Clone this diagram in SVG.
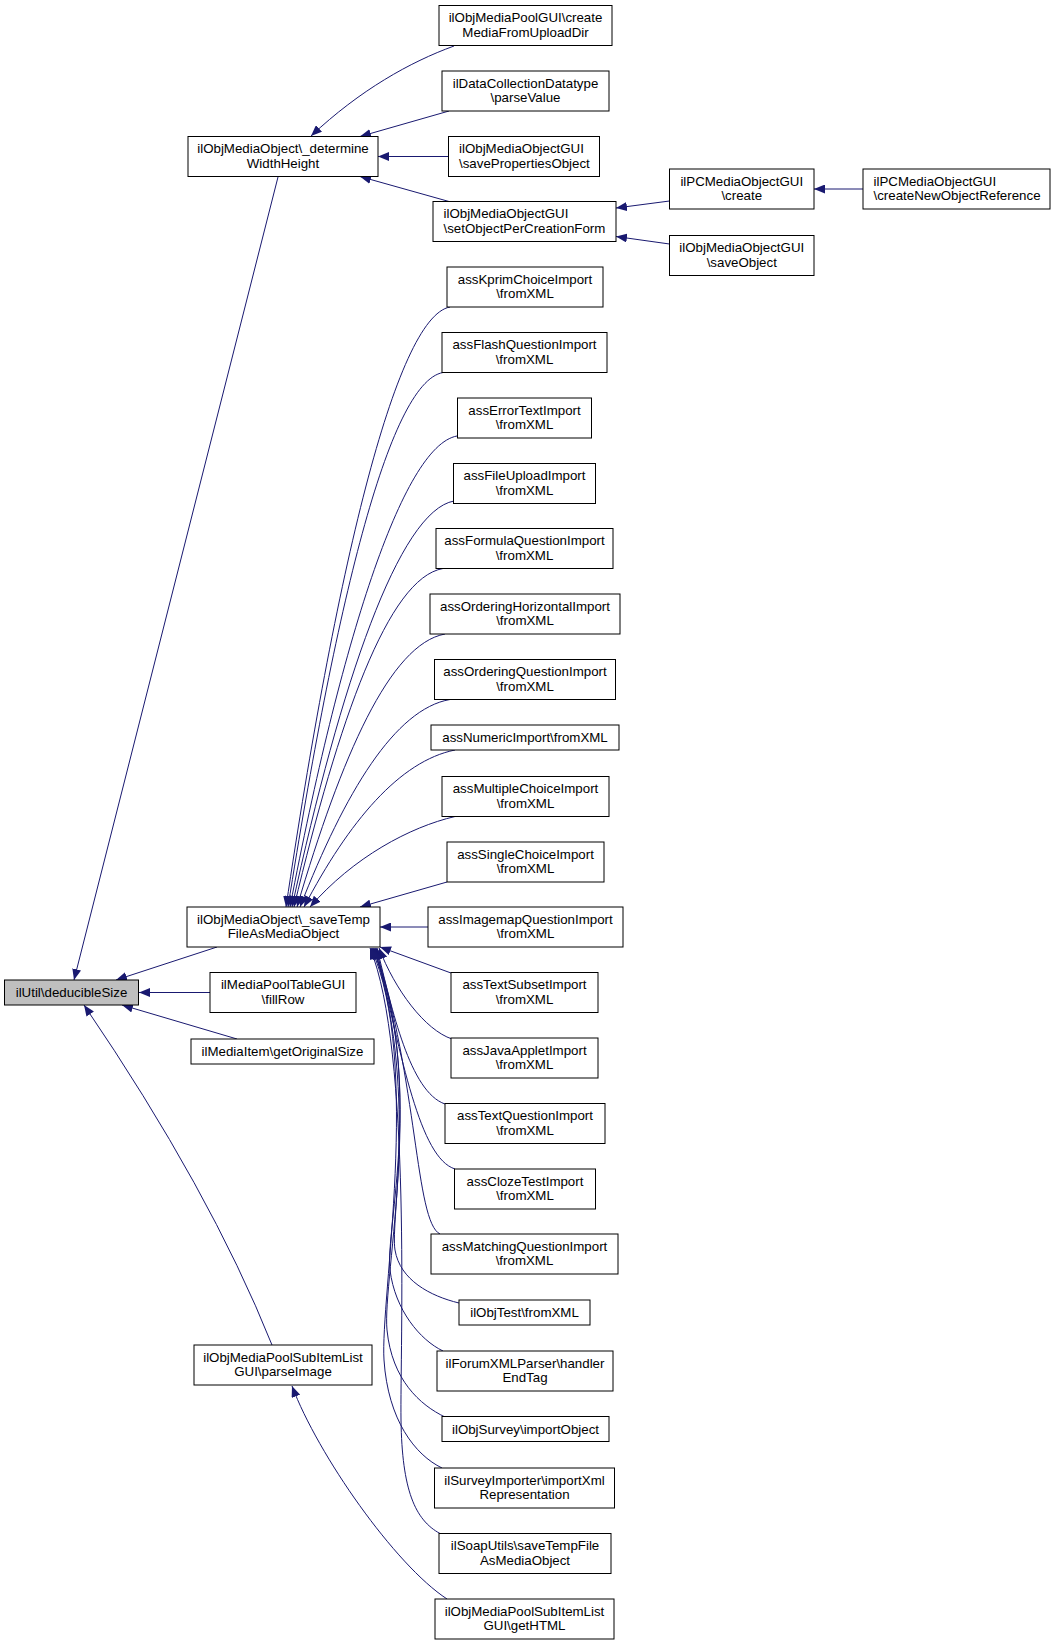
<svg xmlns="http://www.w3.org/2000/svg" width="1055" height="1645" viewBox="0 0 1055 1645">
<defs>
<marker id="arr" markerUnits="userSpaceOnUse" markerWidth="12" markerHeight="9" refX="11" refY="4.5" orient="auto">
<polygon points="0,0 11,4.5 0,9" fill="#191970"/>
</marker>
<style>
rect{fill:#fff;stroke:#000;stroke-width:1}
rect.hl{fill:#bfbfbf}
text{font-family:"Liberation Sans",Arial,Helvetica,sans-serif;font-size:13.3px;fill:#000}
.c{text-anchor:middle}
#edges path{fill:none;stroke:#191970;stroke-width:1;marker-end:url(#arr)}
</style>
</defs>
<rect x="0" y="0" width="1055" height="1645" style="fill:#fff;stroke:none"/>
<g id="edges">
<path d="M278,177 L74,980"/>
<path d="M217,947 L116,980"/>
<path d="M210,992.5 L139,992.5"/>
<path d="M237,1039 L122,1005"/>
<path d="M272,1345 Q210,1190 84,1005"/>
<path d="M454,46 C410,62 360,90 311,136"/>
<path d="M449,111 L360,136.5"/>
<path d="M448.5,156.5 L378,156.5"/>
<path d="M449,201.5 L360,176.5"/>
<path d="M669.5,201 L616,208"/>
<path d="M669.5,244 L616,236.5"/>
<path d="M863,189 L814,189"/>
<path d="M450,307 C395,317 335,577 286,907"/>
<path d="M443,372.5 C388,382.5 334.5,613 288,907"/>
<path d="M457,436 C402,446 340,646 290,907"/>
<path d="M454,501 C399,511 340.6,683 292,907"/>
<path d="M443,568.5 C388,578 338.7,720 294,907"/>
<path d="M445,634 C390,644 341.4,756 297,907"/>
<path d="M450,699.5 C395,709 345,792 300,907"/>
<path d="M455,750 C400,761 349,821 304,907"/>
<path d="M455,816.5 C410,827 353.5,857 310,907"/>
<path d="M447,882 L360,907"/>
<path d="M428,927 L380,927"/>
<path d="M451,973 L380,947"/>
<path d="M452,1039 C425,1030 395,990 379,948"/>
<path d="M445,1104 C410,1092 392,1010 377,948"/>
<path d="M455,1169 C420,1158 402,1060 376,948"/>
<path d="M440,1234 C415,1222 418,1080 375,948"/>
<path d="M459,1303 C430,1296 400,1280 395,1250 S418,1090 374,948"/>
<path d="M443,1351 C420,1340 395,1310 390,1270 S425,1080 373,948"/>
<path d="M445,1417 C420,1405 392,1380 387,1330 S428,1070 372,948"/>
<path d="M442,1468 C415,1455 388,1420 384,1360 S422,1060 371,948"/>
<path d="M440,1533.5 C415,1520 402,1490 401,1420 S412,1050 370,948"/>
<path d="M447,1599 C395,1565 318,1455 292,1386"/>
</g>
<g id="n_ilUtil"><rect class="hl" x="4.5" y="980" width="134" height="25"/><text class="c" x="71.5" y="997">ilUtil\deducibleSize</text></g>
<g id="n_determine"><rect x="188" y="136.5" width="190" height="40"/><text class="c" x="283" y="153">ilObjMediaObject\_determine</text><text class="c" x="283" y="167.5">WidthHeight</text></g>
<g id="n_saveTemp"><rect x="187" y="907" width="193" height="40"/><text class="c" x="283.5" y="923.5">ilObjMediaObject\_saveTemp</text><text class="c" x="283.5" y="938">FileAsMediaObject</text></g>
<g id="n_fillRow"><rect x="210" y="972.5" width="146" height="40"/><text class="c" x="283" y="989">ilMediaPoolTableGUI</text><text class="c" x="283" y="1003.5">\fillRow</text></g>
<g id="n_getOriginalSize"><rect x="191" y="1039" width="183" height="25"/><text class="c" x="282.5" y="1056">ilMediaItem\getOriginalSize</text></g>
<g id="n_parseImage"><rect x="194" y="1345" width="178" height="40"/><text class="c" x="283" y="1361.5">ilObjMediaPoolSubItemList</text><text class="c" x="283" y="1376">GUI\parseImage</text></g>
<g id="n1"><rect x="439" y="5.5" width="173" height="40"/><text class="c" x="525.5" y="22">ilObjMediaPoolGUI\create</text><text class="c" x="525.5" y="36.5">MediaFromUploadDir</text></g>
<g id="n2"><rect x="442" y="71" width="167" height="40"/><text class="c" x="525.5" y="87.5">ilDataCollectionDatatype</text><text class="c" x="525.5" y="102">\parseValue</text></g>
<g id="n3"><rect x="448.5" y="136.5" width="151" height="40"/><text x="459" y="153">ilObjMediaObjectGUI</text><text x="459" y="167.5">\savePropertiesObject</text></g>
<g id="n4"><rect x="433" y="201.5" width="183" height="40"/><text x="443.5" y="218">ilObjMediaObjectGUI</text><text x="443.5" y="232.5">\setObjectPerCreationForm</text></g>
<g id="n5"><rect x="447" y="267" width="156" height="40"/><text class="c" x="525" y="283.5">assKprimChoiceImport</text><text class="c" x="525" y="298">\fromXML</text></g>
<g id="n6"><rect x="442" y="332.5" width="165" height="40"/><text class="c" x="524.5" y="349">assFlashQuestionImport</text><text class="c" x="524.5" y="363.5">\fromXML</text></g>
<g id="n7"><rect x="457.5" y="398" width="134" height="40"/><text class="c" x="524.5" y="414.5">assErrorTextImport</text><text class="c" x="524.5" y="429">\fromXML</text></g>
<g id="n8"><rect x="453.5" y="463.5" width="142" height="40"/><text class="c" x="524.5" y="480">assFileUploadImport</text><text class="c" x="524.5" y="494.5">\fromXML</text></g>
<g id="n9"><rect x="436" y="528.5" width="177" height="40"/><text class="c" x="524.5" y="545">assFormulaQuestionImport</text><text class="c" x="524.5" y="559.5">\fromXML</text></g>
<g id="n10"><rect x="430" y="594" width="190" height="40"/><text class="c" x="525" y="610.5">assOrderingHorizontalImport</text><text class="c" x="525" y="625">\fromXML</text></g>
<g id="n11"><rect x="434.5" y="659.5" width="181" height="40"/><text class="c" x="525" y="676">assOrderingQuestionImport</text><text class="c" x="525" y="690.5">\fromXML</text></g>
<g id="n12"><rect x="431" y="725" width="188" height="25"/><text class="c" x="525" y="742">assNumericImport\fromXML</text></g>
<g id="n13"><rect x="442" y="776.5" width="167" height="40"/><text class="c" x="525.5" y="793">assMultipleChoiceImport</text><text class="c" x="525.5" y="807.5">\fromXML</text></g>
<g id="n14"><rect x="447" y="842" width="157" height="40"/><text class="c" x="525.5" y="858.5">assSingleChoiceImport</text><text class="c" x="525.5" y="873">\fromXML</text></g>
<g id="n15"><rect x="428" y="907" width="195" height="40"/><text class="c" x="525.5" y="923.5">assImagemapQuestionImport</text><text class="c" x="525.5" y="938">\fromXML</text></g>
<g id="n16"><rect x="451" y="972.5" width="147" height="40"/><text class="c" x="524.5" y="989">assTextSubsetImport</text><text class="c" x="524.5" y="1003.5">\fromXML</text></g>
<g id="n17"><rect x="451" y="1038" width="147" height="40"/><text class="c" x="524.5" y="1054.5">assJavaAppletImport</text><text class="c" x="524.5" y="1069">\fromXML</text></g>
<g id="n18"><rect x="445" y="1103.5" width="160" height="40"/><text class="c" x="525" y="1120">assTextQuestionImport</text><text class="c" x="525" y="1134.5">\fromXML</text></g>
<g id="n19"><rect x="454.5" y="1169" width="141" height="40"/><text class="c" x="525" y="1185.5">assClozeTestImport</text><text class="c" x="525" y="1200">\fromXML</text></g>
<g id="n20"><rect x="431" y="1234" width="187" height="40"/><text class="c" x="524.5" y="1250.5">assMatchingQuestionImport</text><text class="c" x="524.5" y="1265">\fromXML</text></g>
<g id="n21"><rect x="459" y="1300" width="131" height="25"/><text class="c" x="524.5" y="1317">ilObjTest\fromXML</text></g>
<g id="n22"><rect x="437" y="1351" width="176" height="40"/><text class="c" x="525" y="1367.5">ilForumXMLParser\handler</text><text class="c" x="525" y="1382">EndTag</text></g>
<g id="n23"><rect x="442" y="1416.5" width="167" height="25"/><text class="c" x="525.5" y="1433.5">ilObjSurvey\importObject</text></g>
<g id="n24"><rect x="434.5" y="1468" width="180" height="40"/><text class="c" x="524.5" y="1484.5">ilSurveyImporter\importXml</text><text class="c" x="524.5" y="1499">Representation</text></g>
<g id="n25"><rect x="439" y="1533.5" width="172" height="40"/><text class="c" x="525" y="1550">ilSoapUtils\saveTempFile</text><text class="c" x="525" y="1564.5">AsMediaObject</text></g>
<g id="n26"><rect x="435" y="1599" width="179" height="40"/><text class="c" x="524.5" y="1615.5">ilObjMediaPoolSubItemList</text><text class="c" x="524.5" y="1630">GUI\getHTML</text></g>
<g id="n_create"><rect x="669.5" y="169" width="144.5" height="40"/><text class="c" x="741.75" y="185.5">ilPCMediaObjectGUI</text><text class="c" x="741.75" y="200">\create</text></g>
<g id="n_saveObject"><rect x="669.5" y="235.5" width="144.5" height="40"/><text class="c" x="741.75" y="252">ilObjMediaObjectGUI</text><text class="c" x="741.75" y="266.5">\saveObject</text></g>
<g id="n_createNew"><rect x="863" y="169" width="187" height="40"/><text x="873.5" y="185.5">ilPCMediaObjectGUI</text><text x="873.5" y="200">\createNewObjectReference</text></g>
</svg>
